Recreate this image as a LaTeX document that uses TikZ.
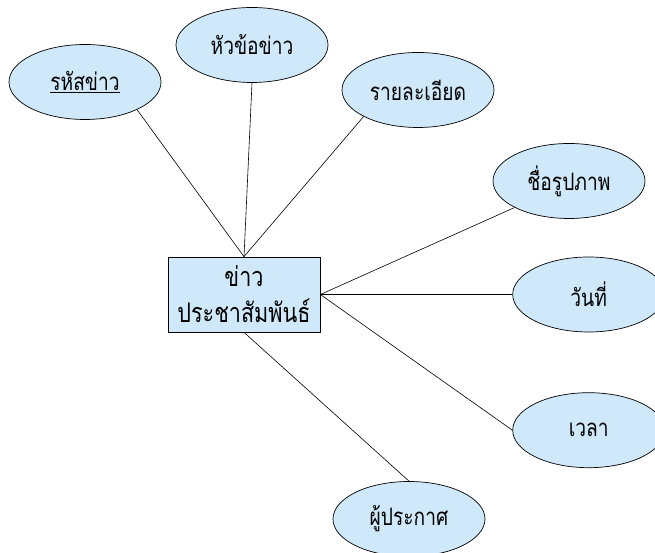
\documentclass[tikz,border=0pt]{standalone}
\usepackage{fontspec}
\usepackage{tikz}
\usetikzlibrary{positioning}
\usetikzlibrary{shapes.geometric}
\newfontfamily\thaifont[Script=Thai, FakeStretch=0.8]{Loma}
\definecolor{lightblue}{RGB}{207,233,250}
\tikzset {
  node distance={60pt},
  % entity box
  entity/.style = {draw, rectangle, fill=lightblue, line width=0.7pt,
    minimum width=152pt, minimum height=75pt, inner sep=0pt, align=center,
    font=\thaifont\fontsize{27}{36}\selectfont},
  % attribute ellipse
  attr/.style = {draw, ellipse, fill=lightblue, line width=0.7pt,
    minimum width=152pt, minimum height=75pt, inner sep=0pt,
    font=\thaifont\fontsize{24}{28}\selectfont},
  % connector
  link/.style = {line width=0.6pt},
}
\begin{document}
\begin{tikzpicture}[x=1pt, y=1pt]
        \useasboundingbox (0,0) rectangle (655,553);
        \node[entity] (news) at (244,258.5) {ข่าว\\ประชาสัมพันธ์};
        \node[attr] (newsid) at (85,471) {\underline{รหัสข่าว}};
        \node[attr] (title) at (252,508) {หัวข้อข่าว};
        \node[attr] (detail) at (418,463) {รายละเอียด};
        \node[attr] (image) at (569,372) {ชื่อรูปภาพ};
        \node[attr] (date) [right=192pt of news] {วันที่};
        \node[attr] (time) [below=of date] {เวลา};
        \node[attr] (author) at (409,34) {ผู้ประกาศ};

        \draw [link] (newsid.-28) -- (news.north);
        \draw [link] (title.south) -- (news.north);
        \draw [link] (detail.-154) -- (news.north);
        \draw [link] (image.-154) -- (news.east);
        \draw [link] (date.west) -- (news.east);
        \draw [link] (time.west) -- (news.east);
        \draw [link] (author.north) -- (news.south);
      \end{tikzpicture}
\end{document}
